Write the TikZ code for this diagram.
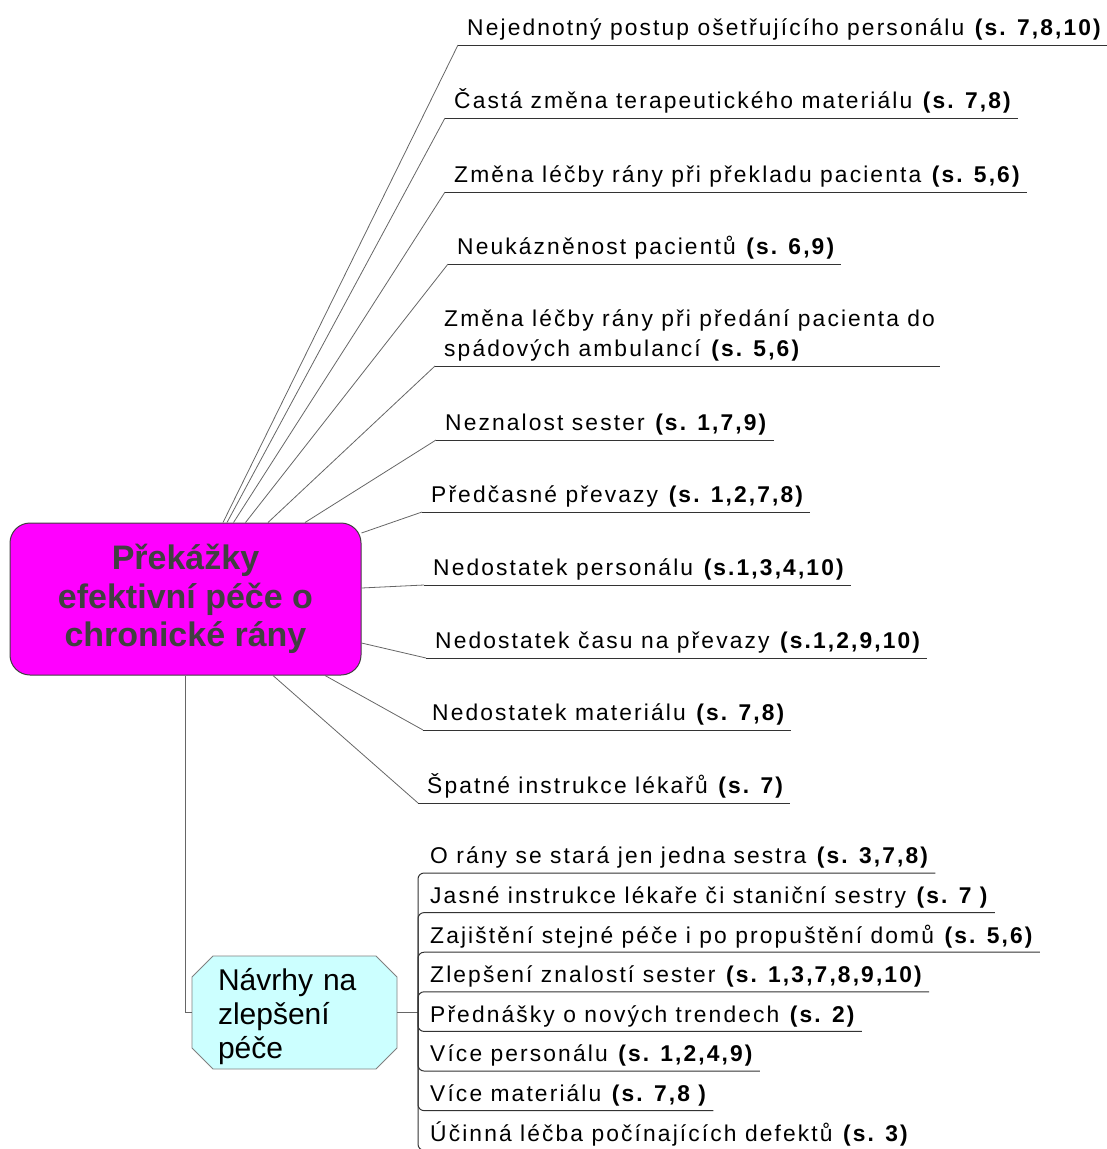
\documentclass[tikz,border=0pt]{standalone}
\usepackage{fontspec}
\setmainfont{Liberation Sans}
\newfontfamily\leaffont{Liberation Sans}[LetterSpace=9.3]
\usetikzlibrary{shapes.misc}
\definecolor{rootpink}{HTML}{FF00FF}
\definecolor{rootgray}{HTML}{404040}
\definecolor{ideacyan}{HTML}{CCFFFF}
\tikzset{
  root/.style={
    % The shape:
    shape=rectangle,rounded corners=20pt,
    % The size:
    minimum width=351pt,minimum height=152pt,inner sep=0pt,
    % The border and the filling:
    draw=rootgray,line width=1pt,fill=rootpink,
    % The text:
    text=rootgray,align=center,
    font=\fontsize{34}{38.5}\selectfont\bfseries}}
\tikzset{
	idea/.style={
		% The shape: the chamfer is twice the sep
		chamfered rectangle,
		chamfered rectangle xsep=10.5pt,chamfered rectangle ysep=10.5pt,
		text width=153pt,inner xsep=15.5pt,inner ysep=0pt,
		text height=23.5pt,text depth=68.5pt,
		% The rest
		draw=gray,line width=0.8pt,fill=ideacyan,align=left,
		font=\fontsize{30}{34}\selectfont}}
\tikzset{
	leaf/.style={
		inner xsep=5pt,inner ysep=0pt,text depth=9pt,
		align=left,font=\leaffont\fontsize{22.8}{30}\selectfont},
	link/.style={draw=black!60,line width=0.8pt},
	uline/.style={draw=black!80,line width=1pt}}

\begin{document}
\begin{tikzpicture}[x=1pt,y=-1pt]
	\useasboundingbox (0,0) rectangle (1107,1149);
	\node[root] (root) at (185.5,599) {Překážky\\efektivní péče o\\chronické rány};
	\node[idea] (navrhy) at (294.5,1012.5) {Návrhy na\\zlepšení\\péče};
	% Joints of the branches
	\coordinate (j1) at (458,45);
	\coordinate (j2) at (445,118);
	\coordinate (j3) at (445,192);
	\coordinate (j4) at (448,264);
	\coordinate (j5) at (435,366);
	\coordinate (j6) at (436,440);
	\coordinate (j7) at (422,512);
	\coordinate (j8) at (424,585);
	\coordinate (j9) at (426,658);
	\coordinate (j10) at (423,730);
	\coordinate (j11) at (418,803);
	\coordinate (bar) at (418,1012.5);
	% Obstacles
	\node[leaf,anchor=south west] (b1) at ([xshift=4pt]j1) {Nejednotný postup ošetřujícího personálu \textbf{(s. 7,8,10)}};
	\node[leaf,anchor=south west] (b2) at ([xshift=4pt]j2) {Častá změna terapeutického materiálu \textbf{(s. 7,8)}};
	\node[leaf,anchor=south west] (b3) at ([xshift=4pt]j3) {Změna léčby rány při překladu pacienta \textbf{(s. 5,6)}};
	\node[leaf,anchor=south west] (b4) at ([xshift=4pt]j4) {Neukázněnost pacientů \textbf{(s. 6,9)}};
	\node[leaf,anchor=south west] (b5) at ([xshift=4pt]j5) {Změna léčby rány při předání pacienta do\\spádových ambulancí \textbf{(s. 5,6)}};
	\node[leaf,anchor=south west] (b6) at ([xshift=4pt]j6) {Neznalost sester \textbf{(s. 1,7,9)}};
	\node[leaf,anchor=south west] (b7) at ([xshift=4pt]j7) {Předčasné převazy \textbf{(s. 1,2,7,8)}};
	\node[leaf,anchor=south west] (b8) at ([xshift=4pt]j8) {Nedostatek personálu \textbf{(s.1,3,4,10)}};
	\node[leaf,anchor=south west] (b9) at ([xshift=4pt]j9) {Nedostatek času na převazy \textbf{(s.1,2,9,10)}};
	\node[leaf,anchor=south west] (b10) at ([xshift=4pt]j10) {Nedostatek materiálu \textbf{(s. 7,8)}};
	\node[leaf,anchor=south west] (b11) at ([xshift=4pt]j11) {Špatné instrukce lékařů \textbf{(s. 7)}};
	% Proposals
	\node[leaf,anchor=south west] (p1) at (425,873) {O rány se stará jen jedna sestra \textbf{(s. 3,7,8)}};
	\node[leaf,anchor=south west] (p2) at (425,912.6) {Jasné instrukce lékaře či staniční sestry \textbf{(s. 7 )}};
	\node[leaf,anchor=south west] (p3) at (425,952.2) {Zajištění stejné péče i po propuštění domů \textbf{(s. 5,6)}};
	\node[leaf,anchor=south west] (p4) at (425,991.8) {Zlepšení znalostí sester \textbf{(s. 1,3,7,8,9,10)}};
	\node[leaf,anchor=south west] (p5) at (425,1031.4) {Přednášky o nových trendech \textbf{(s. 2)}};
	\node[leaf,anchor=south west] (p6) at (425,1071) {Více personálu \textbf{(s. 1,2,4,9)}};
	\node[leaf,anchor=south west] (p7) at (425,1110.6) {Více materiálu \textbf{(s. 7,8 )}};
	\node[leaf,anchor=south west] (p8) at (425,1150.2) {Účinná léčba počínajících defektů \textbf{(s. 3)}};
	% Lines out of the top of root
	\draw[link] ([xshift=37.5pt]root.north) -- (j1);
	\draw[link] ([xshift=41.5pt]root.north) -- (j2);
	\draw[link] ([xshift=48pt]root.north) -- (j3);
	\draw[link] ([xshift=60pt]root.north) -- (j4);
	\draw[link] ([xshift=82.5pt]root.north) -- (j5);
	\draw[link] ([xshift=119.5pt]root.north) -- (j6);
	% Lines out of the side of root
	\draw[link] ([yshift=66pt]root.east) -- (j7);
	\draw[link] ([yshift=11pt]root.east) -- (j8);
	\draw[link] ([yshift=-44pt]root.east) -- (j9);
	% Lines out of the bottom of root
	\draw[link] ([xshift=139.5pt]root.south) -- (j10);
	\draw[link] ([xshift=87.5pt]root.south) -- (j11);
	\draw[link] (root.south) |- (navrhy.west);
	% Underlines
	\foreach \i in {1,...,11}
		\draw[uline] (j\i) -- (b\i.south east);
	% Lines out of navrhy
	\draw[link] (navrhy.east) -- (bar);
	\foreach \i in {1,...,8}
		\draw[uline,rounded corners=6pt] (bar) |- (p\i.south east);
\end{tikzpicture}
\end{document}
